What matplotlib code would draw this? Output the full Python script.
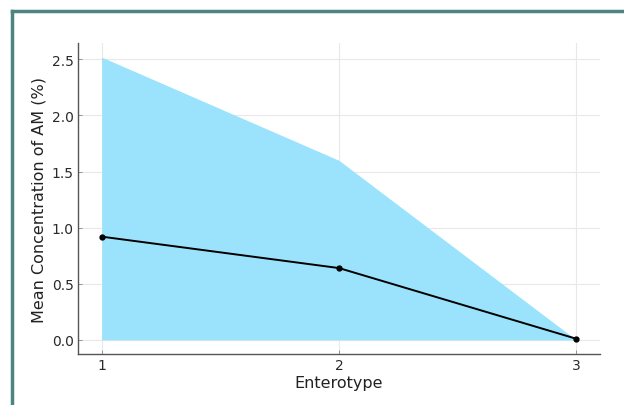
import numpy as np
import matplotlib.pyplot as plt
from matplotlib.lines import Line2D

# enterotype groups and AM concentration (%)
enterotype = [1, 2, 3]
mean_conc = [0.92, 0.64, 0.01]
upper_conc = [2.52, 1.60, 0.0]
lower_conc = [0.0, 0.0, 0.0]

fig = plt.figure(figsize=(6.24, 4.06), dpi=100)
ax = fig.add_axes([0.125, 0.1256, 0.8365, 0.766])

ax.fill_between(enterotype, lower_conc, upper_conc, color='#9be3fc', lw=0, zorder=2)
ax.plot(enterotype, mean_conc, color='black', lw=1.4, marker='o', ms=3.5, zorder=3)

ax.set_xticks(enterotype)
ax.set_yticks([0.0, 0.5, 1.0, 1.5, 2.0, 2.5])
ax.set_yticklabels(['0.0', '0.5', '1.0', '1.5', '2.0', '2.5'])
ax.grid(True, color='#e8e8e8', lw=0.8, zorder=0)
ax.set_axisbelow(True)

for s in ['top', 'right']:
    ax.spines[s].set_visible(False)
for s in ['left', 'bottom']:
    ax.spines[s].set_color('#555555')
    ax.spines[s].set_linewidth(1.0)
ax.tick_params(direction='in', length=3, width=0.6, color='#888888',
               labelsize=10, labelcolor='#2a2a2a', pad=3)

ax.set_xlabel('Enterotype', fontsize=11.5, color='#222222', labelpad=2)
ax.set_ylabel('Mean Concentration of AM (%)', fontsize=11.5, color='#222222', labelpad=4)

# teal frame along the top and left edges
W, H = 624, 406
fig.add_artist(Line2D([12 / W, 1.0], [1 - 12 / H, 1 - 12 / H], color='#4a8582', lw=2.5,
                      transform=fig.transFigure))
fig.add_artist(Line2D([12 / W, 12 / W], [0.0, 1 - 12 / H], color='#4a8582', lw=2.5,
                      transform=fig.transFigure))

fig.savefig('out.png', dpi=100)
